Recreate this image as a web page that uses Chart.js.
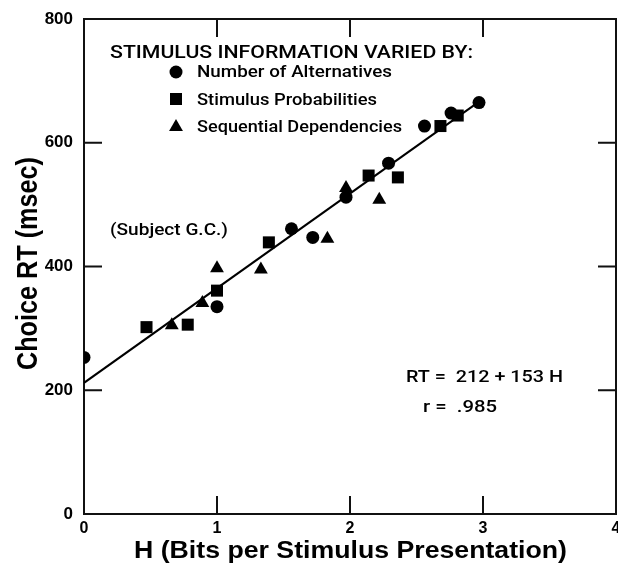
<!DOCTYPE html>
<html><head><meta charset="utf-8">
<script src="https://cdn.jsdelivr.net/npm/chart.js@4.4.1/dist/chart.umd.min.js"></script>
<style>html,body{margin:0;padding:0;background:#fff;overflow:hidden;}</style>
</head><body><canvas id="c" width="618" height="566"></canvas>
<script>
// ---- data ----
const altH   = [0, 1, 1.56, 1.72, 1.97, 2.29, 2.56, 2.76, 2.97];
const altRT  = [253, 335, 461, 447, 512, 567, 627, 648, 665];
const probH  = [0.47, 0.78, 1.0, 1.39, 2.14, 2.36, 2.68, 2.81];
const probRT = [302, 306, 361, 439, 547, 544, 627, 644];
const seqH   = [0.66, 0.89, 1.0, 1.33, 1.83, 1.97, 2.22];
const seqRT  = [305, 341, 397, 395, 445, 527, 508];
const fitH   = [0, 3];
const fitRT  = [212, 671];
const xTickValues = [0, 1, 2, 3, 4];
const yTickValues = [0, 200, 400, 600, 800];
const seriesNames = ['Number of Alternatives', 'Stimulus Probabilities', 'Sequential Dependencies'];
const legendTitle = 'STIMULUS INFORMATION VARIED BY:';
const xTitle = 'H (Bits per Stimulus Presentation)';
const yTitle = 'Choice RT (msec)';
const noteSubject = '(Subject G.C.)';
const noteEq = 'RT =  212 + 153 H';
const noteR = 'r =  .985';

const pts = (xs, ys) => xs.map((x, i) => ({x: x, y: ys[i]}));
const INK = '#000';

function fitText(ctx, text, x, base, font, width, rot) {
  ctx.save();
  ctx.font = font;
  ctx.fillStyle = INK;
  ctx.textAlign = 'left';
  ctx.textBaseline = 'alphabetic';
  const w = ctx.measureText(text).width;
  ctx.translate(x, base);
  if (rot) ctx.rotate(rot);
  ctx.scale(width / w, 1);
  ctx.fillText(text, 0, 0);
  ctx.restore();
}

function marker(ctx, style, r, x, y) {
  ctx.save();
  ctx.fillStyle = INK;
  Chart.helpers.drawPoint(ctx, {pointStyle: style, radius: r, rotation: 0, borderWidth: 0}, x, y);
  ctx.restore();
}

const framePlugin = {
  id: 'frame',
  beforeDatasetsDraw(chart) {
    const ctx = chart.ctx, a = chart.chartArea;
    const xs = chart.scales.x, ys = chart.scales.y;
    ctx.save();
    ctx.strokeStyle = '#111';
    ctx.lineWidth = 2;
    ctx.strokeRect(a.left, a.top, a.right - a.left, a.bottom - a.top);
    const L = 18;
    ctx.beginPath();
    yTickValues.slice(1, -1).forEach(v => {
      const p = ys.getPixelForValue(v);
      ctx.moveTo(a.left, p); ctx.lineTo(a.left + L, p);
      ctx.moveTo(a.right, p); ctx.lineTo(a.right - L, p);
    });
    xTickValues.slice(1, -1).forEach(v => {
      const p = xs.getPixelForValue(v);
      ctx.moveTo(p, a.top); ctx.lineTo(p, a.top + L);
      ctx.moveTo(p, a.bottom); ctx.lineTo(p, a.bottom - L);
    });
    ctx.stroke();
    ctx.restore();
  },
  afterDraw(chart) {
    const ctx = chart.ctx;
    // axis titles
    fitText(ctx, yTitle, 37, 370, 'bold 29px "Liberation Sans", Arial, sans-serif', 213, -Math.PI / 2);
    fitText(ctx, xTitle, 134, 558, 'bold 23px "Liberation Sans", Arial, sans-serif', 433);
    // legend
    const f = '500 17px Roboto, "Liberation Sans", sans-serif';
    fitText(ctx, legendTitle, 110, 58, '500 18px Roboto, "Liberation Sans", sans-serif', 363);
    marker(ctx, 'circle', 6.5, 176, 72);
    marker(ctx, 'rect', 8.5, 176, 99);
    marker(ctx, 'triangle', 8, 176, 127);
    fitText(ctx, seriesNames[0], 197, 77, f, 195);
    fitText(ctx, seriesNames[1], 197, 105, f, 180);
    fitText(ctx, seriesNames[2], 197, 132, f, 205);
    // notes
    fitText(ctx, noteSubject, 110, 235, f, 118);
    fitText(ctx, noteEq, 406, 382, f, 157);
    fitText(ctx, noteR, 423, 412, f, 74);
  }
};

new Chart(document.getElementById('c'), {
  type: 'scatter',
  data: {
    datasets: [
      {label: seriesNames[0], data: pts(altH, altRT), pointStyle: 'circle', pointRadius: 6.5,
       backgroundColor: INK, borderWidth: 0},
      {label: seriesNames[1], data: pts(probH, probRT), pointStyle: 'rect', pointRadius: 8.5,
       backgroundColor: INK, borderWidth: 0},
      {label: seriesNames[2], data: pts(seqH, seqRT), pointStyle: 'triangle', pointRadius: 8,
       backgroundColor: INK, borderWidth: 0},
      {type: 'line', label: 'RT = 212 + 153 H', data: pts(fitH, fitRT), borderColor: INK,
       borderWidth: 2, pointRadius: 0, fill: false, showLine: true}
    ]
  },
  options: {
    responsive: false,
    animation: false,
    devicePixelRatio: 1,
    layout: {autoPadding: false, padding: {top: 19, right: 2, left: 0, bottom: 0}},
    plugins: {legend: {display: false}, tooltip: {enabled: false}},
    scales: {
      x: {
        type: 'linear', min: 0, max: 4,
        afterBuildTicks: s => { s.ticks = xTickValues.map(v => ({value: v})); },
        afterFit: s => { s.height = 52; s.paddingLeft = 0; s.paddingRight = 0; },
        grid: {display: false, drawTicks: false},
        border: {display: false},
        ticks: {font: {family: '"Liberation Sans", Arial, sans-serif', weight: 'bold', size: 16},
                color: INK, padding: 5, maxRotation: 0, autoSkip: false}
      },
      y: {
        type: 'linear', min: 0, max: 800,
        afterBuildTicks: s => { s.ticks = yTickValues.map(v => ({value: v})); },
        afterFit: s => { s.width = 84; s.paddingTop = 0; s.paddingBottom = 0; },
        grid: {display: false, drawTicks: false},
        border: {display: false},
        ticks: {font: {family: '"Liberation Sans", Arial, sans-serif', weight: 'bold', size: 17},
                color: INK, padding: 11, autoSkip: false}
      }
    }
  },
  plugins: [framePlugin]
});
</script>
</body></html>
